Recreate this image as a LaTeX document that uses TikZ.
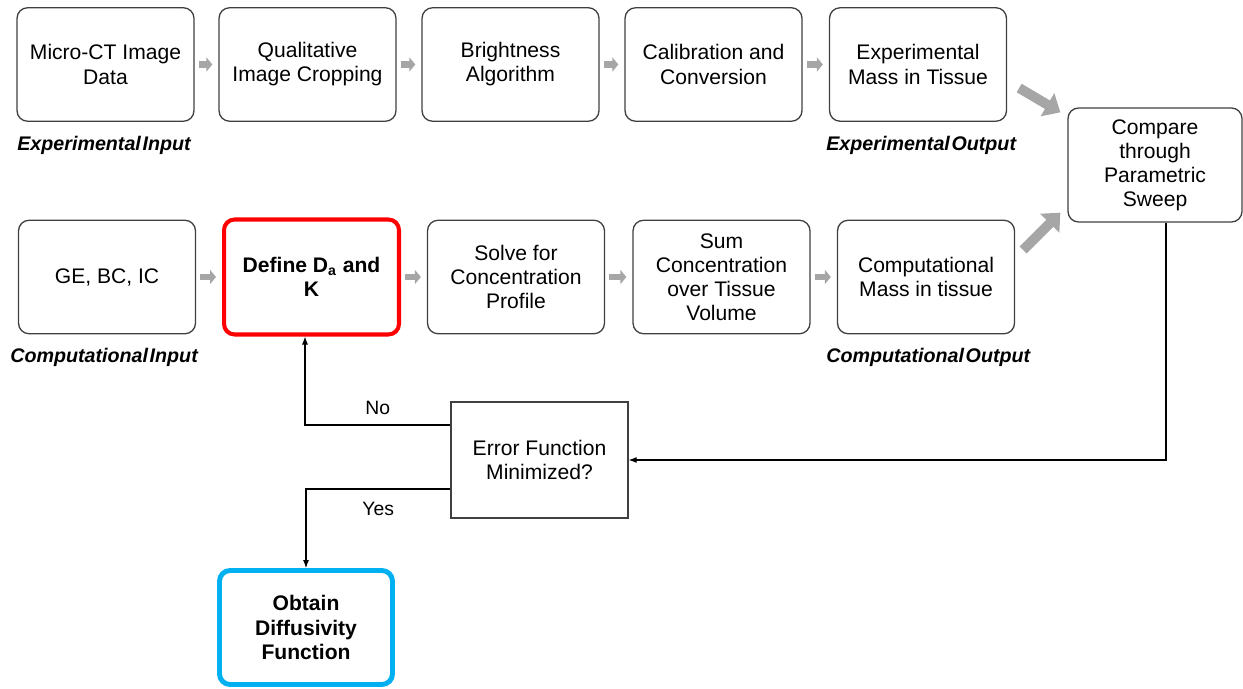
\documentclass[tikz,border=0pt]{standalone}
\usepackage{fontspec}
\setmainfont{Liberation Sans}
\newfontfamily\tagfont[WordSpace=0.3]{Liberation Sans}
\usetikzlibrary{arrows.meta}
\definecolor{arrgray}{HTML}{A6A6A6}
\definecolor{boxline}{HTML}{404040}
\definecolor{defred}{HTML}{FF0000}
\definecolor{obtblue}{HTML}{00B0F0}

\begin{document}
\begin{tikzpicture}[x=0.02cm,y=-0.02cm,
  every node/.style={font=\fontsize{12}{13.7}\selectfont},
  box/.style={draw=boxline,line width=0.75pt,rounded corners=6pt,align=center,
    inner sep=0pt,minimum width=3.54cm,minimum height=2.27cm},
  tag/.style={anchor=west,inner sep=0pt,
    font=\tagfont\fontsize{11.2}{13}\selectfont\bfseries\itshape},
  small/.style={arrgray,line width=3.6pt,shorten <=0.08cm,shorten >=0.12cm,
    -{Triangle[length=0.12cm,width=0.28cm]}},
  big/.style={arrgray,line width=5.6pt,-{Triangle[length=0.3cm,width=0.52cm]}},
  line/.style={black,line width=0.6pt,-{Latex[length=0.16cm,width=0.12cm]}}]
\useasboundingbox (0,0) rectangle (1243,689);

% experimental row
\foreach \n/\x/\t in {e1/105.5/{Micro-CT Image\\Data},e2/307.5/{Qualitative\\Image Cropping},
  e3/510.5/{Brightness\\Algorithm},e4/713.5/{Calibration and\\Conversion},
  e5/918/{Experimental\\Mass in Tissue}}
  \node[box] (\n) at (\x,64.5) {\t};

% computational row
\node[box] (c1) at (107,277) {GE, BC, IC};
\node[box,draw=defred,line width=2.3pt,minimum width=3.5cm,minimum height=2.3cm,
  font=\fontsize{12}{13.7}\selectfont\bfseries] (c2) at (311.5,277) {Define D\textsubscript{a} and\\K};
\node[box] (c3) at (516,277) {Solve for\\Concentration\\Profile};
\node[box] (c4) at (721.5,277) {Sum\\Concentration\\over Tissue\\Volume};
\node[box] (c5) at (926,277) {Computational\\Mass in tissue};

\node[box,minimum width=3.48cm,minimum height=2.28cm] (cmp) at (1155,165) {Compare\\through\\Parametric\\Sweep};
\node[box,rounded corners=0pt,minimum width=3.54cm,minimum height=2.32cm] (err) at (539.5,460) {Error Function\\Minimized?};
\node[box,draw=obtblue,line width=2.8pt,minimum width=3.46cm,minimum height=2.28cm,
  font=\fontsize{12}{13.7}\selectfont\bfseries] (obt) at (306,627.5) {Obtain\\Diffusivity\\Function};

% captions
\node[tag] (ti) at (17,145) {Experimental Input};
\node[tag] (to) at (826,145) {Experimental Output};
\node[tag] (ci) at (10,357) {Computational Input};
\node[tag] (co) at (826,357) {Computational Output};

% small grey arrows
\foreach \a/\b in {e1/e2,e2/e3,e3/e4,e4/e5,c1/c2,c2/c3,c3/c4,c4/c5}
  \draw[small] (\a) -- (\b);

% into the comparison
\draw[big] ([xshift=0.24cm,yshift=-0.47cm]e5.east) -- ([xshift=-0.14cm,yshift=-0.1cm]cmp.north west);
\draw[big] ([xshift=0.16cm,yshift=0.54cm]c5.east) -- ([xshift=-0.14cm,yshift=0.2cm]cmp.south west);

% feedback loop
\draw[line] ([xshift=0.22cm]cmp.south) |- (err.east);
\draw[line] ([yshift=0.7cm]err.west) -| ([xshift=-0.13cm]c2.south)
  node[pos=0.25,above=2pt,font=\fontsize{11}{13}\selectfont] (no) {No};
\draw[line] ([yshift=-0.58cm]err.west) -| (obt.north)
  node[pos=0.25,below=4pt,font=\fontsize{11}{13}\selectfont] (yes) {Yes};
\end{tikzpicture}
\end{document}
